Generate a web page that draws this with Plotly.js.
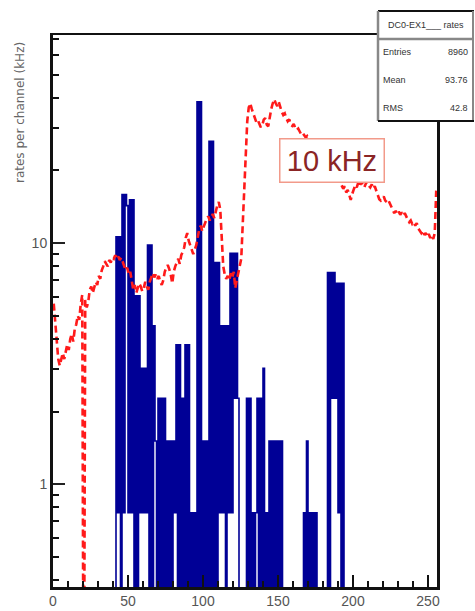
<!DOCTYPE html>
<html><head><meta charset="utf-8">
<script src="https://cdn.plot.ly/plotly-3.0.1.min.js"></script>
<style>html,body{margin:0;padding:0;background:#fff}#chart{width:475px;height:611px}</style>
</head><body><div id="chart"></div>
<script>
// ---- data ----
const nChannels = 256;
const blueFirstChannel = 42;
// blue histogram rates (kHz) for channels 42 .. 193
const blueRate = [
 10.6, 0.76, 10.6, 0, 15.9, 0.76, 15.9, 14.3, 0.76, 15.1,   // 42-51
 0.76, 15.1, 0, 6.04, 0, 6.04, 0.76, 3.02, 0.76, 3.02,      // 52-61
 0.76, 9.8, 0, 9.8, 0, 4.53, 1.51, 0, 2.27, 0,              // 62-71
 2.27, 0, 2.27, 0, 1.51, 0, 1.51, 0, 1.51, 0.76,            // 72-81
 3.78, 0, 3.78, 0, 2.27, 0, 3.78, 0, 3.78, 0,               // 82-91
 0.76, 0, 0.76, 0, 38.5, 0, 38.5, 0, 1.51, 0,               // 92-101
 1.51, 0, 26.4, 0, 26.4, 0, 8.3, 0, 8.3, 0.76,              // 102-111
 4.53, 0.76, 4.53, 0, 4.53, 0.76, 9.06, 0.76, 9.06, 2.27,   // 112-121
 9.06, 2.27, 0, 0, 0, 0, 0, 2.27, 0, 2.27,                  // 122-131
 0, 0.76, 0, 0.76, 2.27, 0, 2.27, 0, 3.02, 0,               // 132-141
 0.76, 0, 1.51, 0, 1.51, 0, 1.51, 0, 1.51, 0,               // 142-151
 1.51, 0, 0, 0, 0, 0, 0, 0, 0, 0,                           // 152-161
 0, 0, 0, 0, 0, 0.76, 0, 1.51, 0, 0.76,                     // 162-171
 0, 0.76, 0, 0.76, 0, 0, 0, 0, 0, 0,                        // 172-181
 0, 7.55, 0, 7.55, 2.27, 7.55, 2.27, 6.8, 0.76, 6.8,        // 182-191
 0, 6.8                                                     // 192-193
];
// red dashed rate per channel (kHz), channels 0 .. 255
const redRate = [
 5.6, 4.6, 3.7, 3.3, 3.1, 3.3, 3.5, 3.3, 3.6, 3.8,
 3.6, 4.0, 4.2, 3.9, 4.4, 4.6, 5.0, 4.8, 5.6, 6.1,
 0, 5.8, 5.4, 5.7, 6.4, 6.6, 6.2, 6.5, 6.9, 6.7,
 7.3, 7.1, 7.7, 8.0, 8.4, 8.2, 8.0, 8.5, 8.3, 8.7,
 8.6, 8.9, 8.6, 8.8, 8.5, 8.7, 8.4, 8.1, 7.7, 7.9,
 7.4, 7.6, 6.9, 6.4, 6.7, 6.2, 6.5, 6.8, 6.6, 6.3,
 6.5, 6.9, 6.6, 6.4, 6.9, 7.2, 7.5, 7.2, 7.4, 7.1,
 7.3, 6.9, 6.7, 7.0, 7.6, 7.9, 8.1, 7.8, 7.4, 6.8,
 7.6, 8.0, 8.3, 8.6, 8.2, 8.9, 9.2, 9.6, 10.5, 11.0,
 10.2, 9.7, 9.3, 9.0, 9.4, 9.8, 10.6, 11.4, 11.8, 11.2,
 11.7, 12.3, 12.6, 12.9, 12.4, 12.8, 13.2, 12.7, 13.6, 14.3,
 14.8, 13.8, 10.5, 8.0, 7.4, 7.1, 7.3, 7.0, 7.5, 7.2,
 7.6, 6.5, 7.0, 7.5, 7.8, 8.6, 12.0, 17.0, 25.0, 32.0,
 36.5, 38.0, 36.0, 34.5, 33.0, 31.8, 32.4, 31.0, 30.2, 30.8,
 32.5, 33.0, 31.0, 30.5, 34.0, 36.0, 38.0, 39.5, 38.0, 37.0,
 38.5, 36.5, 35.0, 34.0, 34.5, 33.0, 32.0, 32.6, 31.0, 30.6,
 31.2, 30.0, 29.4, 29.8, 28.8, 28.2, 28.6, 27.9, 27.4, 27.8,
 27.2, 26.8, 26.2, 26.6, 25.6, 25.0, 25.3, 24.5, 24.0, 23.4,
 23.7, 22.8, 22.2, 21.6, 21.9, 21.0, 20.4, 20.0, 19.4, 19.0,
 18.4, 17.8, 17.3, 16.8, 17.2, 16.2, 16.6, 15.6, 15.1, 16.0,
 16.8, 17.4, 17.0, 17.8, 17.2, 18.0, 17.4, 17.0, 17.6, 18.0,
 17.3, 17.0, 17.5, 16.8, 17.2, 16.5, 15.6, 15.2, 15.0, 15.4,
 15.6, 15.0, 14.8, 15.1, 14.6, 14.0, 13.6, 13.3, 13.6, 13.2,
 13.5, 13.1, 13.4, 13.0, 13.3, 12.8, 12.5, 12.2, 12.4, 12.0,
 12.2, 11.8, 12.1, 11.5, 11.2, 11.0, 11.3, 10.8, 11.0, 10.6,
 10.9, 10.5, 10.8, 10.4, 11.0, 16.5
];
const xTickVals = [0, 50, 100, 150, 200, 250];
const xTickText = ['0', '50', '100', '150', '200', '250'];
const xMinorVals = [10,20,30,40,60,70,80,90,110,120,130,140,160,170,180,190,210,220,230,240];
const yTickVals = [1, 10];
const yTickText = ['1', '10'];
const yMinorVals = [0.4,0.5,0.6,0.7,0.8,0.9,2,3,4,5,6,7,8,9,20,30,40,50,60,70];
const yTitle = 'rates per channel (kHz)';
const statsTitle = 'DC0-EX1___ rates';
const statsLabels = ['Entries', 'Mean', 'RMS'];
const statsValues = ['8960', '93.76', '42.8'];
const noteText = '10 kHz';

// ---- build traces ----
const FLOOR = 0.05; // empty bins fall below the log axis
const blueFull = [];
for (let c = 0; c < nChannels; c++) {
  const k = c - blueFirstChannel;
  const v = (k >= 0 && k < blueRate.length) ? blueRate[k] : 0;
  blueFull.push(v > 0 ? v : FLOOR);
}
const blueX = [], blueY = [];
for (let c = 0; c < nChannels; c++) { blueX.push(c); blueY.push(blueFull[c]); }
blueX.push(nChannels); blueY.push(blueFull[nChannels - 1]);

const redX = redRate.map((v, i) => i + 0.5);
const redY = redRate.map(v => v > 0 ? v : FLOOR);

const traces = [
  {x: blueX, y: blueY, type: 'scatter', mode: 'lines',
   line: {shape: 'hv', color: '#000096', width: 1.6}, hoverinfo: 'skip'},
  {x: redX, y: redY, type: 'scatter', mode: 'lines',
   line: {color: '#ff1a1a', width: 2.6, dash: '7px,4px'}, hoverinfo: 'skip'}
];

// ---- layout ----
const L = 53, R = 437, T = 35, B = 587;
const px = v => (v - L) / (R - L);
const py = v => (B - v) / (B - T);
const tickFont = {family: 'Liberation Sans, Arial, sans-serif', size: 14, color: '#555'};
const statFont = {family: 'Liberation Sans, Arial, sans-serif', size: 9, color: '#333'};

const annotations = [
  {text: yTitle, xref: 'paper', yref: 'paper', x: px(20), y: py(113),
   xanchor: 'center', yanchor: 'middle', textangle: -90, showarrow: false,
   font: {family: 'DejaVu Sans, sans-serif', size: 12, color: '#666'}},
  {text: noteText, xref: 'paper', yref: 'paper', x: px(332), y: py(160.5),
   xanchor: 'center', yanchor: 'middle', showarrow: false,
   bgcolor: '#ffffff', bordercolor: '#f29a8a', borderwidth: 1.5, borderpad: 0,
   width: 103, height: 42,
   font: {family: 'Liberation Sans, Arial, sans-serif', size: 29, color: '#8b2525'}},
  {text: statsTitle, xref: 'paper', yref: 'paper', x: px(425.5), y: py(25),
   xanchor: 'center', yanchor: 'middle', showarrow: false, font: statFont}
];
const rowY = [52, 80, 108];
statsLabels.forEach((lab, i) => {
  annotations.push({text: lab, xref: 'paper', yref: 'paper', x: px(381), y: py(rowY[i]),
    xanchor: 'left', yanchor: 'middle', showarrow: false, font: statFont});
  annotations.push({text: statsValues[i], xref: 'paper', yref: 'paper', x: px(470), y: py(rowY[i]),
    xanchor: 'right', yanchor: 'middle', showarrow: false, font: statFont});
});

const shapes = [
  {type: 'rect', xref: 'paper', yref: 'paper', x0: px(378), x1: px(474), y0: py(121), y1: py(11),
   fillcolor: '#ffffff', line: {width: 0}, layer: 'above'},
  {type: 'line', xref: 'paper', yref: 'paper', x0: px(378), x1: px(474), y0: py(11), y1: py(11),
   line: {color: '#111', width: 2}, layer: 'above'},
  {type: 'line', xref: 'paper', yref: 'paper', x0: px(378), x1: px(474), y0: py(39), y1: py(39),
   line: {color: '#888', width: 2.5}, layer: 'above'},
  {type: 'line', xref: 'paper', yref: 'paper', x0: px(378), x1: px(378), y0: py(121), y1: py(11),
   line: {color: '#888', width: 2.5}, layer: 'above'},
  {type: 'line', xref: 'paper', yref: 'paper', x0: px(473), x1: px(473), y0: py(121), y1: py(11),
   line: {color: '#888', width: 2}, layer: 'above'},
  {type: 'line', xref: 'paper', yref: 'paper', x0: px(378), x1: px(474), y0: py(121), y1: py(121),
   line: {color: '#111', width: 2}, layer: 'above'}
];

const layout = {
  width: 475, height: 611,
  margin: {l: L, r: 475 - R, t: T, b: 611 - B, pad: 0},
  paper_bgcolor: '#ffffff', plot_bgcolor: '#ffffff',
  showlegend: false,
  xaxis: {range: [0, nChannels], tickmode: 'array', tickvals: xTickVals, ticktext: xTickText,
    ticks: 'inside', ticklen: 12, tickwidth: 2, tickcolor: '#111',
    minor: {tickmode: 'array', tickvals: xMinorVals, ticks: 'inside', ticklen: 6, tickwidth: 2, tickcolor: '#111', showgrid: false},
    showline: true, linewidth: 2.5, linecolor: '#111', mirror: true,
    showgrid: false, zeroline: false, tickfont: tickFont, fixedrange: true},
  yaxis: {type: 'log', range: [-0.427, 1.863], tickmode: 'array', tickvals: yTickVals, ticktext: yTickText,
    ticks: 'inside', ticklen: 12, tickwidth: 2, tickcolor: '#222',
    minor: {tickmode: 'array', tickvals: yMinorVals, ticks: 'inside', ticklen: 6, tickwidth: 2, tickcolor: '#111', showgrid: false},
    showline: true, linewidth: 3, linecolor: '#111', mirror: true,
    showgrid: false, zeroline: false, tickfont: tickFont, fixedrange: true},
  annotations: annotations,
  shapes: shapes
};

Plotly.newPlot('chart', traces, layout, {staticPlot: true, displayModeBar: false});
</script>
</body></html>
